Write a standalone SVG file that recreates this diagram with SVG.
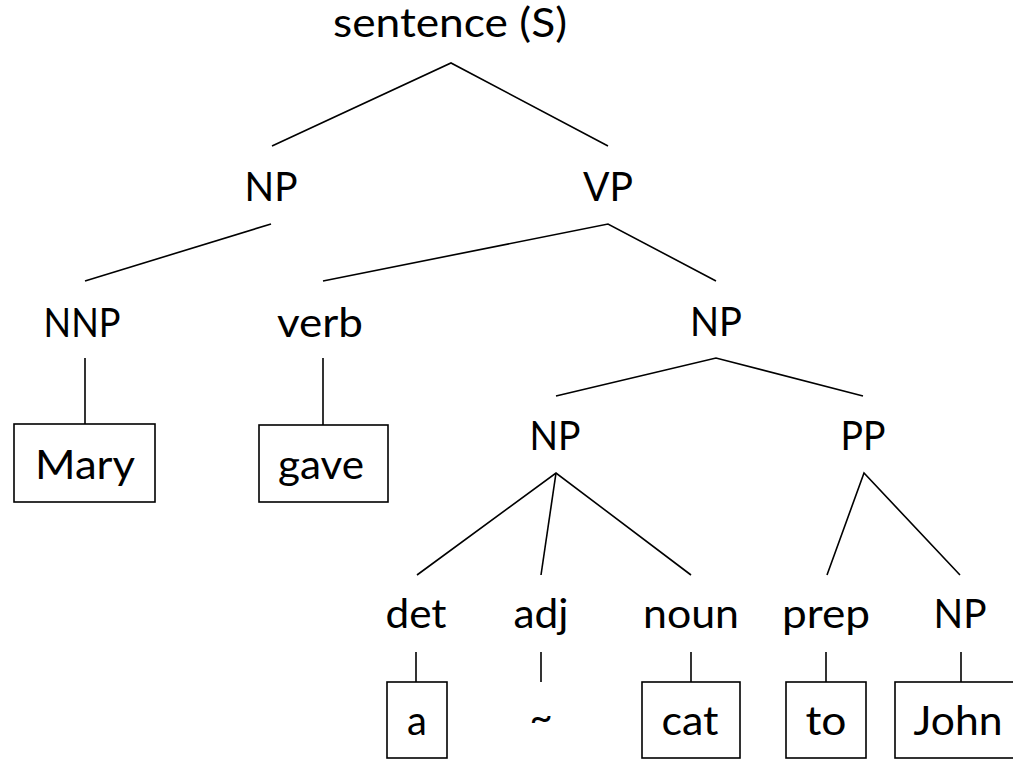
<svg xmlns="http://www.w3.org/2000/svg" width="1013" height="760" viewBox="0 0 1013 760">
<style>
text{font-family:Lato,"Open Sans","Noto Sans",sans-serif;font-size:40px;fill:#000;text-anchor:middle}
.e{fill:none;stroke:#000;stroke-width:1.6}
.b{fill:#fff;stroke:#000;stroke-width:1.6}
</style>
<rect width="1013" height="760" fill="#fff"/>
<g id="connectors">
<polyline class="e" points="272,146 451,63 608,146"/>
<line class="e" x1="271" y1="224" x2="85" y2="281"/>
<polyline class="e" points="323,281 608,224 716,281"/>
<line class="e" x1="85" y1="358" x2="85" y2="424"/>
<line class="e" x1="323" y1="358" x2="323" y2="425"/>
<polyline class="e" points="556,396 716,358 863,396"/>
<polyline class="e" points="417,575 556,473 691,575"/>
<line class="e" x1="556" y1="473" x2="541" y2="575"/>
<polyline class="e" points="827,575 864,473 960,575"/>
<line class="e" x1="416" y1="652" x2="416" y2="682"/>
<line class="e" x1="541" y1="652" x2="541" y2="682"/>
<line class="e" x1="691" y1="652" x2="691" y2="682"/>
<line class="e" x1="826" y1="652" x2="826" y2="682"/>
<line class="e" x1="961" y1="652" x2="961" y2="682"/>
</g>
<g id="S"><text x="450" y="37" textLength="234" lengthAdjust="spacingAndGlyphs">sentence (S)</text></g>
<g id="NP1"><text x="271" y="201" textLength="53" lengthAdjust="spacingAndGlyphs">NP</text></g>
<g id="VP"><text x="608" y="201" textLength="50" lengthAdjust="spacingAndGlyphs">VP</text></g>
<g id="NNP"><text x="82" y="337" textLength="77" lengthAdjust="spacingAndGlyphs">NNP</text></g>
<g id="verb"><text x="320" y="337" textLength="86" lengthAdjust="spacingAndGlyphs">verb</text></g>
<g id="NP2"><text x="716" y="336" textLength="52" lengthAdjust="spacingAndGlyphs">NP</text></g>
<g id="Mary"><rect class="b" x="14" y="424" width="141" height="78"/><text x="85" y="479" textLength="100" lengthAdjust="spacingAndGlyphs">Mary</text></g>
<g id="gave"><rect class="b" x="259" y="425" width="129" height="77"/><text x="321" y="479" textLength="86" lengthAdjust="spacingAndGlyphs">gave</text></g>
<g id="NP3"><text x="555" y="450" textLength="51" lengthAdjust="spacingAndGlyphs">NP</text></g>
<g id="PP"><text x="863" y="450" textLength="45" lengthAdjust="spacingAndGlyphs">PP</text></g>
<g id="det"><text x="416" y="628" textLength="61" lengthAdjust="spacingAndGlyphs">det</text></g>
<g id="adj"><text x="541" y="628" textLength="55" lengthAdjust="spacingAndGlyphs">adj</text></g>
<g id="noun"><text x="691" y="628" textLength="96" lengthAdjust="spacingAndGlyphs">noun</text></g>
<g id="prep"><text x="826" y="628" textLength="88" lengthAdjust="spacingAndGlyphs">prep</text></g>
<g id="NP4"><text x="960" y="628" textLength="53" lengthAdjust="spacingAndGlyphs">NP</text></g>
<g id="a"><rect class="b" x="387" y="682" width="60" height="76"/><text x="417" y="735">a</text></g>
<g id="tilde"><text x="541" y="731">~</text></g>
<g id="cat"><rect class="b" x="642" y="682" width="98" height="76"/><text x="690" y="735" textLength="57" lengthAdjust="spacingAndGlyphs">cat</text></g>
<g id="to"><rect class="b" x="786" y="682" width="80" height="76"/><text x="826" y="735" textLength="41" lengthAdjust="spacingAndGlyphs">to</text></g>
<g id="John"><rect class="b" x="895" y="682" width="130" height="76"/><text x="958" y="735" textLength="89" lengthAdjust="spacingAndGlyphs">John</text></g>
</svg>
